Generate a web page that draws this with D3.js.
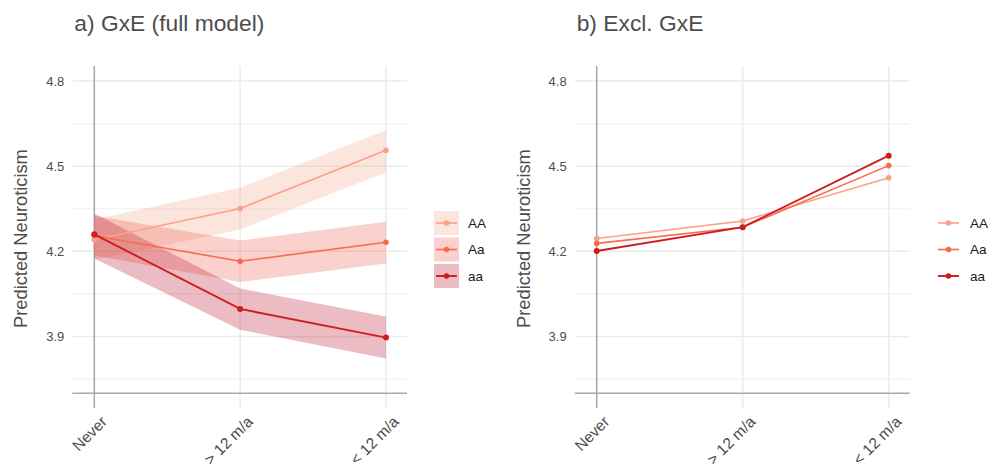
<!DOCTYPE html>
<html>
<head>
<meta charset="utf-8">
<script src="https://cdn.jsdelivr.net/npm/d3@7"></script>
<style>
  html, body { margin: 0; padding: 0; background: #fff; }
  svg { display: block; font-family: "Liberation Sans", Arial, sans-serif; }
</style>
</head>
<body>
<svg id="chart" width="991" height="471"></svg>
<script>
// Exposure categories and genotype groups
const categories = ["Never", "> 12 m/a", "< 12 m/a"];
const genotypes = ["AA", "Aa", "aa"];
const yTicks = [3.9, 4.2, 4.5, 4.8];
const yMinor = [3.75, 4.05, 4.35, 4.65];

// Panel a: full GxE model, predicted values with confidence bands
const fullAA = [4.241, 4.351, 4.556];
const fullAA_lo = [4.170, 4.277, 4.479];
const fullAA_hi = [4.312, 4.424, 4.627];
const fullAa = [4.255, 4.165, 4.232];
const fullAa_lo = [4.185, 4.092, 4.157];
const fullAa_hi = [4.325, 4.238, 4.304];
const fullaa = [4.260, 3.997, 3.896];
const fullaa_lo = [4.175, 3.924, 3.822];
const fullaa_hi = [4.333, 4.069, 3.970];

// Panel b: model without the interaction term
const exclAA = [4.245, 4.307, 4.459];
const exclAa = [4.228, 4.285, 4.502];
const exclaa = [4.201, 4.285, 4.537];

const lineColors = {AA: "#fca184", Aa: "#fa6a4c", aa: "#cf1c1f"};
const bandColors = {AA: "rgba(242,168,138,0.30)", Aa: "rgba(238,102,85,0.30)", aa: "rgba(192,32,58,0.30)"};

const svg = d3.select("#chart");
const y = d3.scaleLinear().domain([3.648, 4.853]).range([408, 66]);

function panel(opts) {
  const g = svg.append("g");
  const x = d3.scalePoint().domain(categories).range([opts.x0, opts.x1]);
  const left = opts.x0 - 22, right = opts.x1 + 21;

  // grid
  g.selectAll(".minor").data(yMinor).join("line")
    .attr("x1", left).attr("x2", right)
    .attr("y1", d => y(d)).attr("y2", d => y(d))
    .attr("stroke", "#f0f0f0").attr("stroke-width", 1.1);
  g.selectAll(".major").data(yTicks).join("line")
    .attr("x1", left).attr("x2", right)
    .attr("y1", d => y(d)).attr("y2", d => y(d))
    .attr("stroke", "#ebebeb").attr("stroke-width", 1.5);
  g.selectAll(".vgrid").data(categories.slice(1)).join("line")
    .attr("x1", d => x(d)).attr("x2", d => x(d))
    .attr("y1", 66).attr("y2", 408)
    .attr("stroke", "#ebebeb").attr("stroke-width", 1.5);

  // reference lines
  g.append("line").attr("x1", left).attr("x2", right)
    .attr("y1", y(3.7)).attr("y2", y(3.7))
    .attr("stroke", "#aaaaaa").attr("stroke-width", 1.6);
  g.append("line").attr("x1", x("Never")).attr("x2", x("Never"))
    .attr("y1", 66).attr("y2", 408)
    .attr("stroke", "#aaaaaa").attr("stroke-width", 1.6);

  // y tick labels
  g.selectAll(".ytl").data(yTicks).join("text")
    .attr("x", left - 8).attr("y", d => y(d)).attr("dy", "0.35em")
    .attr("text-anchor", "end").attr("font-size", 13).attr("fill", "#4d4d4d")
    .text(d => d.toFixed(1));

  // x tick labels
  g.selectAll(".xtl").data(categories).join("text")
    .attr("transform", d => `translate(${x(d) + 6},${415}) rotate(-45)`)
    .attr("text-anchor", "end").attr("dy", "0.7em").attr("font-size", 15.5).attr("fill", "#4d4d4d")
    .text(d => d);

  // axis title
  g.append("text")
    .attr("transform", `translate(${opts.x0 - 67},${y(4.245)}) rotate(-90)`)
    .attr("text-anchor", "middle")
    .attr("font-size", 18.3).attr("fill", "#4d4d4d")
    .text("Predicted Neuroticism");

  // panel title
  g.append("text").attr("x", opts.x0 - 20).attr("y", 31)
    .attr("font-size", 22.8).attr("fill", "#4d4d4d").text(opts.title);

  // bands
  if (opts.bands) {
    const area = d3.area().x((d, i) => x(categories[i])).y0(d => y(d[0])).y1(d => y(d[1]));
    opts.series.forEach(s => {
      if (!s.lo) return;
      const pts = s.lo.map((v, i) => [v, s.hi[i]]);
      g.append("path").attr("d", area(pts)).attr("fill", bandColors[s.key]);
    });
  }

  // lines and points
  const line = d3.line().x((d, i) => x(categories[i])).y(d => y(d));
  opts.series.forEach(s => {
    g.append("path").attr("d", line(s.values)).attr("fill", "none")
      .attr("stroke", lineColors[s.key]).attr("stroke-width", s.key === "aa" ? 1.9 : 1.6);
    g.selectAll(null).data(s.values).join("circle")
      .attr("cx", (d, i) => x(categories[i])).attr("cy", d => y(d)).attr("r", s.key === "aa" ? 3 : 2.8)
      .attr("fill", lineColors[s.key]);
  });

  // legend
  const lg = g.append("g");
  genotypes.forEach((k, i) => {
    const cy = 223 + i * 26.5;
    if (opts.bands) {
      lg.append("rect").attr("x", opts.legX).attr("y", cy - 12).attr("width", 25).attr("height", 24)
        .attr("fill", bandColors[k]);
    }
    lg.append("line").attr("x1", opts.legX + 2).attr("x2", opts.legX + 23)
      .attr("y1", cy).attr("y2", cy).attr("stroke", lineColors[k]).attr("stroke-width", k === "aa" ? 1.9 : 1.6);
    lg.append("circle").attr("cx", opts.legX + 12.5).attr("cy", cy).attr("r", 2.8).attr("fill", lineColors[k]);
    lg.append("text").attr("x", opts.legX + 34).attr("y", cy).attr("dy", "0.35em")
      .attr("font-size", 13.5).attr("fill", "#1a1a1a").text(k);
  });
}

panel({
  title: "a) GxE (full model)", x0: 94.3, x1: 386, legX: 434, bands: true,
  series: [
    {key: "AA", values: fullAA, lo: fullAA_lo, hi: fullAA_hi},
    {key: "Aa", values: fullAa, lo: fullAa_lo, hi: fullAa_hi},
    {key: "aa", values: fullaa, lo: fullaa_lo, hi: fullaa_hi}
  ]
});

panel({
  title: "b) Excl. GxE", x0: 596.7, x1: 888.7, legX: 936, bands: false,
  series: [
    {key: "AA", values: exclAA},
    {key: "Aa", values: exclAa},
    {key: "aa", values: exclaa}
  ]
});
</script>
</body>
</html>
